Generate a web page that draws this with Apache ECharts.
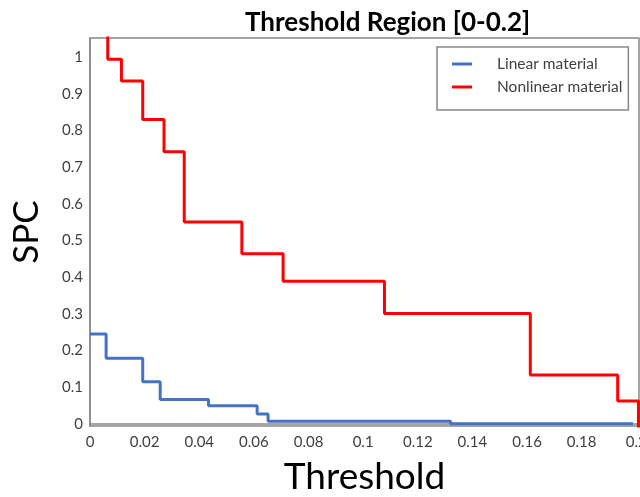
<!DOCTYPE html>
<html>
<head>
<meta charset="utf-8">
<script src="https://cdn.jsdelivr.net/npm/echarts@6/dist/echarts.min.js"></script>
<style>
  html, body { margin: 0; padding: 0; background: #fff; }
  #main { width: 640px; height: 497px; }
</style>
</head>
<body>
<div id="main"></div>
<script>
// step points: value holds from x until the next x
let linearX = [0, 0.0059, 0.0193, 0.0257, 0.0434, 0.0612, 0.0652, 0.132, 0.1988];
let linearSPC = [0.245, 0.179, 0.115, 0.066, 0.049, 0.027, 0.007, 0, 0];

let nonlinearX = [0, 0.0065, 0.0115, 0.0193, 0.0271, 0.0345, 0.0556, 0.0707, 0.1078, 0.1612, 0.1932, 0.2008];
let nonlinearSPC = [1.1, 0.994, 0.935, 0.830, 0.742, 0.550, 0.464, 0.389, 0.301, 0.133, 0.062, -0.05];

let xTicks = [0, 0.02, 0.04, 0.06, 0.08, 0.1, 0.12, 0.14, 0.16, 0.18, 0.2];
let yTicks = [0, 0.1, 0.2, 0.3, 0.4, 0.5, 0.6, 0.7, 0.8, 0.9, 1];

let font = 'Lato, "Open Sans", sans-serif';

let myChart = echarts.init(document.getElementById('main'));

let option = {
    animation: false,
    title: {
        text: 'Threshold Region [0-0.2]',
        left: 240,
        top: 5,
        textStyle: {
            fontFamily: font,
            fontSize: 26,
            fontWeight: 'bold',
            color: '#000'
        }
    },
    legend: {
        orient: 'vertical',
        left: 437,
        top: 47,
        padding: [9, 6, 15, 15],
        itemGap: 7,
        itemWidth: 20,
        itemHeight: 3,
        icon: 'rect',
        borderColor: '#888',
        borderWidth: 1.5,
        textStyle: {
            fontFamily: font,
            fontSize: 15.5,
            color: '#404040',
            padding: [0, 0, 0, 20]
        },
        data: ['Linear material', 'Nonlinear material']
    },
    grid: {
        left: 90,
        right: 1,
        top: 38,
        bottom: 71,
        outerBoundsMode: 'none',
        show: true,
        borderColor: '#888',
        borderWidth: 1.5
    },
    xAxis: {
        type: 'value',
        min: 0,
        max: 0.201,
        name: 'Threshold',
        nameLocation: 'middle',
        nameGap: 33,
        nameTextStyle: {
            fontFamily: font,
            fontSize: 37,
            color: '#000'
        },
        axisLine: { show: true, lineStyle: { color: '#888', width: 1.5 } },
        axisTick: { show: false },
        splitLine: { show: false },
        axisLabel: {
            customValues: xTicks,
            margin: 9,
            fontFamily: font,
            fontSize: 15,
            color: '#404040'
        }
    },
    yAxis: {
        type: 'value',
        min: -0.006,
        max: 1.052,
        name: 'SPC',
        nameLocation: 'middle',
        nameGap: 46,
        nameTextStyle: {
            fontFamily: font,
            fontSize: 35,
            color: '#000'
        },
        axisLine: { show: true, lineStyle: { color: '#888', width: 1.5 } },
        axisTick: { show: false },
        splitLine: { show: false },
        axisLabel: {
            customValues: yTicks,
            margin: 7,
            fontFamily: font,
            fontSize: 15,
            color: '#404040'
        }
    },
    series: [
        {
            name: 'Linear material',
            type: 'line',
            step: 'end',
            showSymbol: false,
            color: '#4472C4',
            lineStyle: { width: 3 },
            data: linearX.map((x, i) => [x, linearSPC[i]])
        },
        {
            name: 'Nonlinear material',
            type: 'line',
            step: 'end',
            showSymbol: false,
            color: '#FF0000',
            lineStyle: { width: 3 },
            data: nonlinearX.map((x, i) => [x, nonlinearSPC[i]])
        }
    ]
};

myChart.setOption(option);
</script>
</body>
</html>
